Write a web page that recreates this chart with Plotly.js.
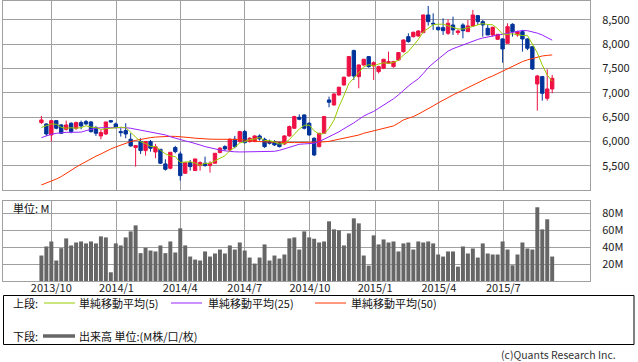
<!DOCTYPE html>
<html><head><meta charset="utf-8">
<script src="https://cdn.plot.ly/plotly-3.0.1.min.js"></script>
<style>html,body{margin:0;padding:0;background:#fff;}#chart{width:638px;height:362px;}</style>
</head><body><div id="chart"></div>
<script>
// ---- data (weekly) ----
const startDate = '2013-09-17';
const opens = [6390,6363,6137,6431,6342,6253,6377,6274,6390,6411,6404,6287,6116,6157,6431,6363,6205,6226,6048,5877,
6000,5815,6000,5787,5842,5541,5452,5877,5746,5349,5568,5404,5507,5555,5507,5555,5774,5897,5828,6048,
6000,6205,6000,6000,6116,6048,6000,6000,5979,5952,6116,6274,6500,6548,6377,6068,5897,6171,6856,6753,
6959,7164,7349,7870,7335,7575,7747,7555,7438,7507,7610,7541,7678,7849,8157,8157,8171,8240,8603,8432,
8350,8342,8226,8397,8240,8397,8260,8377,8589,8466,8329,8192,8103,8110,8020,8411,8192,8260,8110,7952,
7185,7336,6890,7082];
const highs = [6527,6370,6431,6445,6363,6431,6397,6411,6431,6445,6424,6322,6240,6404,6445,6390,6274,6377,6171,5918,
6068,6000,6034,5952,5842,5637,5781,5911,5794,5568,5623,5644,5596,5692,5596,5760,5890,5925,6068,6116,
6220,6240,6090,6130,6150,6080,6040,6030,6000,6130,6330,6530,6560,6560,6400,6090,6171,6530,6924,6995,
7130,7340,7760,7890,7590,7700,7760,7650,7560,7700,7849,7660,7840,8100,8226,8260,8290,8610,8788,8637,
8360,8534,8514,8569,8308,8432,8500,8706,8603,8500,8397,8363,8205,8123,8432,8432,8281,8295,8123,7952,
7370,7350,7486,7370];
const lows = [6363,6116,6000,6253,6157,6226,6171,6240,6253,6342,6185,6116,6048,6137,6390,6274,6103,6068,5897,5486,
5746,5712,5794,5657,5541,5404,5431,5760,5198,5335,5404,5397,5404,5486,5363,5555,5760,5815,5794,5863,
5980,5960,5980,5990,6020,5870,5940,5910,5880,5930,6100,6260,6440,6250,6120,5700,5880,6160,6705,6740,
6945,7150,7330,7267,7096,7560,7520,7267,7400,7490,7600,7520,7660,7830,8034,8140,8150,8230,8384,8295,
8280,8192,8192,8192,8192,8123,8260,8363,8397,8157,8192,8157,8090,7623,8020,8157,8157,7849,7880,7473,
6637,6842,6842,6993];
const closes = [6445,6157,6431,6274,6171,6342,6205,6390,6322,6363,6205,6171,6185,6404,6404,6294,6185,6157,5911,5918,
5815,6000,5863,5897,5555,5431,5781,5794,5301,5568,5486,5644,5568,5507,5555,5760,5863,5849,6048,5897,
6205,5979,6068,6116,6055,5897,5966,5931,5897,6116,6308,6514,6459,6274,6137,5726,6171,6514,6808,6979,
7116,7322,7747,7349,7575,7692,7541,7623,7541,7692,7644,7644,7829,8089,8055,8247,8274,8603,8466,8418,
8300,8281,8432,8295,8274,8281,8377,8603,8466,8397,8192,8349,8205,7904,8363,8260,8260,8110,7918,7493,
7349,6993,7082,7301];
const priorCloses = [5957,6266,6309,6473];
const ma25 = [6082,6120,6150,6170,6185,6190,6190,6192,6195,6225,6253,6275,6285,6287,6290,6290,6288,6285,6274,6255,
6240,6226,6205,6185,6160,6137,6100,6068,6040,6014,5990,5966,5930,5897,5870,5842,5828,5810,5795,5790,
5787,5787,5787,5787,5787,5787,5792,5800,5820,5850,5890,5925,5945,5952,5958,5966,6000,6050,6100,6140,
6200,6265,6320,6385,6455,6525,6575,6620,6685,6750,6810,6880,6960,7060,7140,7220,7290,7400,7520,7610,
7690,7770,7860,7910,7950,7990,8030,8060,8100,8130,8155,8175,8190,8205,8225,8250,8280,8285,8280,8262,
8230,8190,8140,8085];
const ma50 = [5109,5145,5178,5230,5281,5350,5418,5475,5534,5592,5650,5700,5746,5800,5849,5890,5931,5965,6000,6025,
6048,6065,6082,6093,6103,6107,6109,6107,6103,6093,6082,6070,6060,6055,6050,6048,6048,6050,6052,6050,
6045,6030,6015,6005,6000,5995,5990,5988,5985,5985,5982,5980,5980,5980,5980,5985,5990,5995,6005,6025,
6048,6065,6085,6103,6135,6171,6195,6218,6240,6265,6295,6322,6380,6445,6480,6514,6565,6616,6675,6733,
6795,6856,6905,6959,7010,7062,7113,7164,7215,7267,7308,7349,7400,7452,7503,7555,7600,7644,7680,7712,
7736,7760,7772,7781];
const volume = [30.1,40.8,46.7,24.2,38.8,50.3,42,45.5,46.7,44.4,46.7,44.4,52.7,51.5,10.3,44.4,42,51.5,58.6,65.7,
32.9,39.2,36,34.9,42,32.9,46.7,33.7,62.2,42,28.9,25.3,24.2,34.9,28.9,32.5,37.2,32.5,42,37.2,
45.5,36,27.7,20.6,27.7,43.2,24.2,30.1,26.5,31.3,50.3,51.5,37.2,58.6,51.5,49.9,45.5,46.7,70.5,61,
59.8,42,56.2,74,68.1,30.1,18.2,53.9,43.2,49.1,45.5,46.7,34.9,44.4,45.5,37.2,46.7,45.5,46.7,44.4,
31.3,28.9,34.9,34.9,17,40.8,32.5,38.4,27.7,44.4,32.5,31.3,31.3,46.7,37.2,18.6,31.3,45.5,38.4,37.2,
87.1,61,72.9,28.9];
const tickDates = ['2013-10-01','2014-01-01','2014-04-01','2014-07-01','2014-10-01','2015-01-01','2015-04-01','2015-07-01'];
const tickLabels = ['2013/10','2014/1','2014/4','2014/7','2014/10','2015/1','2015/4','2015/7'];
const priceTicks = [5500,6000,6500,7000,7500,8000,8500];
const volumeTicks = [20,40,60,80];
const volumeTickLabels = ['20M','40M','60M','80M'];
const legendLabels = ['単純移動平均(5)','単純移動平均(25)','単純移動平均(50)','出来高 単位:(M株/口/枚)'];

// ---- derived ----
const dates = [];
{
  const d0 = new Date(startDate + 'T00:00:00Z');
  for (let i = 0; i < closes.length; i++) {
    const d = new Date(d0.getTime() + i * 7 * 86400000);
    dates.push(d.toISOString().slice(0, 10));
  }
}
const allCloses = priorCloses.concat(closes);
const ma5 = closes.map((c, i) => {
  let s = 0; for (let k = 0; k < 5; k++) s += allCloses[i + priorCloses.length - k];
  return s / 5;
});

const UP = '#ee1144', DOWN = '#003399';
const C5 = '#99cc00', C25 = '#9922ff', C50 = '#ff3300', VOL = '#666666';
const FONT = '"Noto Sans CJK JP", "Noto Sans", sans-serif';
const xRange = ['2013-07-24 19:00', '2015-10-31 09:00'];

// pixel helpers for paper coords
const PL = 3, PR = 590, PT = 1, PB = 281;
const px = v => (v - PL) / (PR - PL);
const py = v => (PB - v) / (PB - PT);

const traces = [
  {type:'candlestick', x:dates, open:opens, high:highs, low:lows, close:closes, xaxis:'x', yaxis:'y',
   increasing:{line:{color:UP, width:1}, fillcolor:UP}, decreasing:{line:{color:DOWN, width:1}, fillcolor:DOWN},
   whiskerwidth:0, hoverinfo:'skip'},
  {type:'scatter', mode:'lines', x:dates, y:ma50, line:{color:C50, width:1}, xaxis:'x', yaxis:'y', hoverinfo:'skip'},
  {type:'scatter', mode:'lines', x:dates, y:ma25, line:{color:C25, width:1}, xaxis:'x', yaxis:'y', hoverinfo:'skip'},
  {type:'scatter', mode:'lines', x:dates, y:ma5, line:{color:C5, width:1}, xaxis:'x', yaxis:'y', hoverinfo:'skip'},
  {type:'bar', x:dates, y:volume, marker:{color:VOL, line:{width:0}}, xaxis:'x2', yaxis:'y2', hoverinfo:'skip'}
];

const gridCol = '#a0a0a0';
const tickFont = {family:FONT, size:11, color:'#222'};
const xBase = {type:'date', range:xRange, tickmode:'array', tickvals:tickDates, ticktext:tickLabels,
  showgrid:true, gridcolor:gridCol, gridwidth:1, showline:true, mirror:true, linecolor:gridCol, linewidth:1,
  zeroline:false, ticks:'', fixedrange:true};

const row1 = 303, row2 = 336;
const shapes = [
  {type:'rect', xref:'paper', yref:'paper', x0:px(3.5), x1:px(634), y0:py(295.5), y1:py(344.5), line:{color:'#000', width:1}},
  {type:'line', xref:'paper', yref:'paper', x0:px(44), x1:px(75), y0:py(row1), y1:py(row1), line:{color:C5, width:1}},
  {type:'line', xref:'paper', yref:'paper', x0:px(171), x1:px(202), y0:py(row1), y1:py(row1), line:{color:C25, width:1}},
  {type:'line', xref:'paper', yref:'paper', x0:px(315), x1:px(346), y0:py(row1), y1:py(row1), line:{color:C50, width:1}},
  {type:'line', xref:'paper', yref:'paper', x0:px(43), x1:px(75), y0:py(row2), y1:py(row2), line:{color:VOL, width:3.5}}
];
const ann = (text, x, y, anchor, size, color) => ({text, xref:'paper', yref:'paper', x:px(x), y:py(y),
  xanchor:anchor || 'left', yanchor:'middle', showarrow:false, font:{family:FONT, size:size || 11, color:color || '#111'}});
const annotations = [
  ann('上段:', 11, row1), ann(legendLabels[0], 77, row1), ann(legendLabels[1], 206, row1), ann(legendLabels[2], 349, row1),
  ann('下段:', 11, row2), ann(legendLabels[3], 77, row2),
  ann('単位: M', 11, 208),
  ann('(c)Quants Research Inc.', 618, 354.5, 'right', 10.5, '#333')
];

const layout = {
  width:638, height:362, margin:{l:3, r:48, t:1, b:81, pad:0},
  paper_bgcolor:'#fff', plot_bgcolor:'#fff', showlegend:false,
  boxgap:0.1, boxgroupgap:0.25, bargap:0.2,
  font:{family:FONT, size:11, color:'#222'},
  xaxis:Object.assign({}, xBase, {anchor:'y', showticklabels:false, rangeslider:{visible:false}}),
  xaxis2:Object.assign({}, xBase, {anchor:'y2', showticklabels:true, tickfont:tickFont, ticklabelstandoff:-3}),
  yaxis:{domain:[0.325, 1], range:[5005, 8890], side:'right', tickmode:'array', tickvals:priceTicks, tickformat:',d',
    showgrid:true, gridcolor:gridCol, gridwidth:1, showline:true, mirror:true, linecolor:gridCol, zeroline:false,
    ticks:'', tickfont:tickFont, ticklabelstandoff:9, fixedrange:true},
  yaxis2:{domain:[0, 0.2857], range:[0, 94.5], side:'right', tickmode:'array', tickvals:volumeTicks, ticktext:volumeTickLabels,
    showgrid:true, gridcolor:gridCol, gridwidth:1, showline:true, mirror:true, linecolor:gridCol, zeroline:false,
    ticks:'', tickfont:tickFont, ticklabelstandoff:9, fixedrange:true},
  shapes, annotations
};

Plotly.newPlot('chart', traces, layout, {staticPlot:true, displayModeBar:false});
</script></body></html>
